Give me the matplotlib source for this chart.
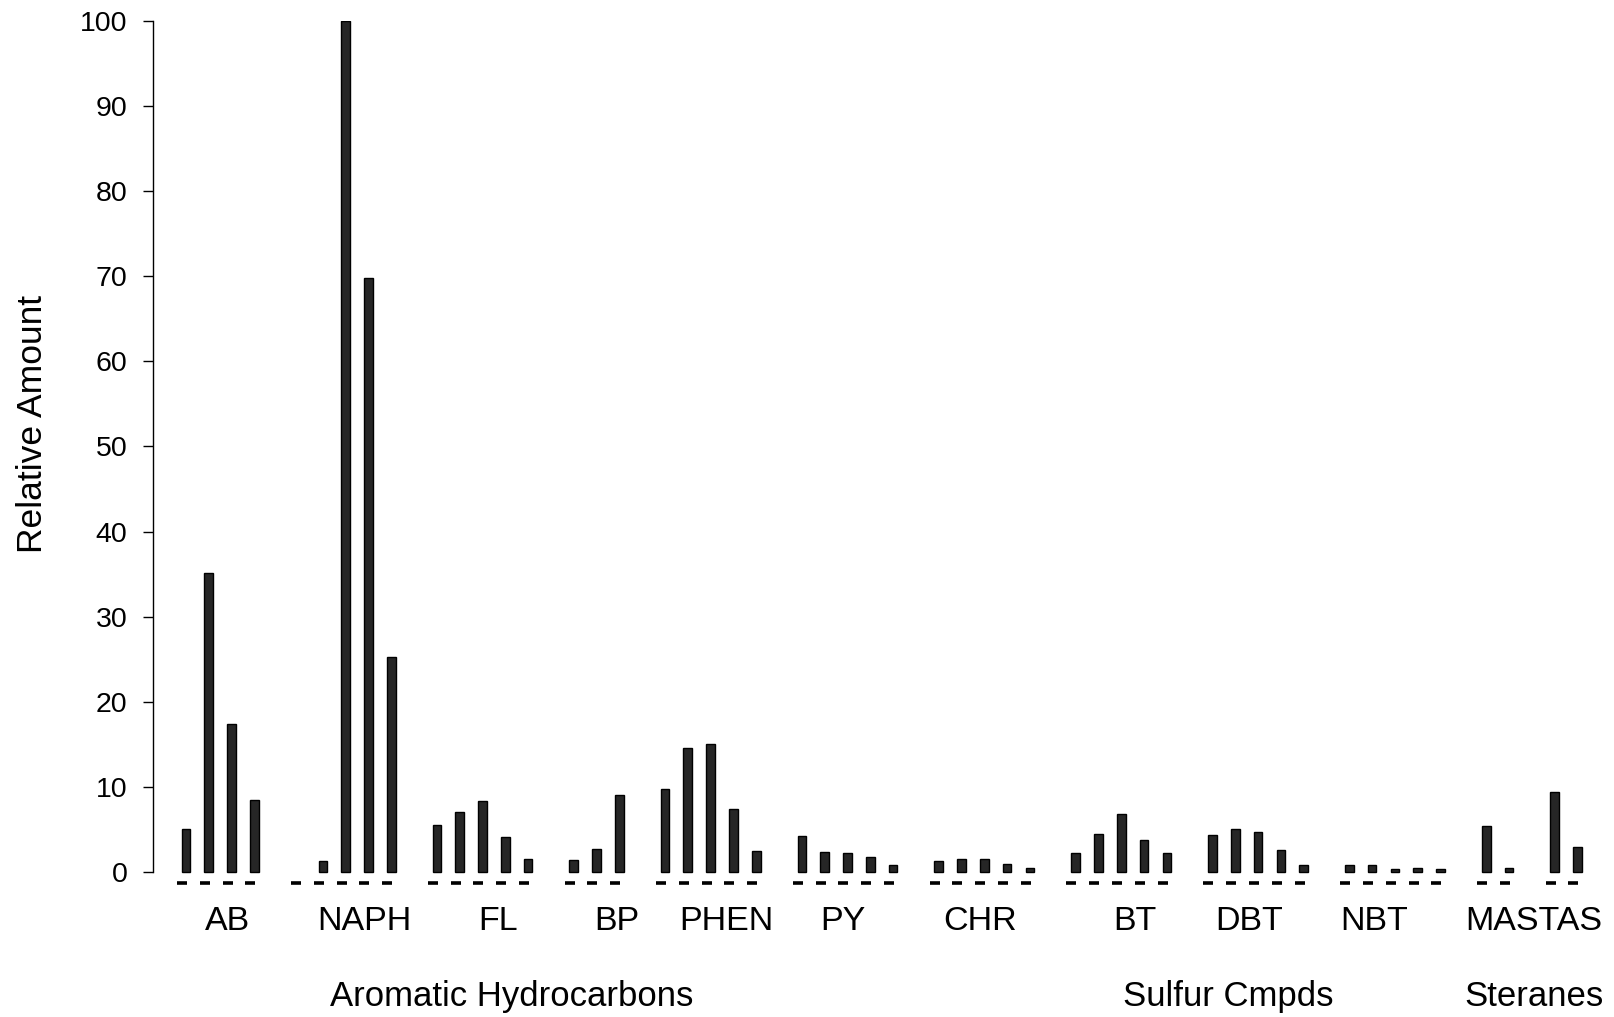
import matplotlib
matplotlib.use('Agg')
import matplotlib.pyplot as plt
import matplotlib.transforms as mtransforms
import numpy as np

plt.rcParams['font.family'] = ['Liberation Sans', 'DejaVu Sans']

# relative amounts per compound class (one bar per sample)
ab = [5.0, 35.1, 17.4, 8.5]
naph = [0, 1.3, 100, 69.8, 25.3]
fl = [5.5, 7.0, 8.3, 4.1, 1.5]
bp = [1.4, 2.7, 9.0]
phen = [9.7, 14.6, 15.0, 7.4, 2.5]
py = [4.2, 2.4, 2.2, 1.8, 0.8]
chry = [1.3, 1.5, 1.5, 0.9, 0.5]
bt = [2.2, 4.5, 6.8, 3.7, 2.2]
dbt = [4.3, 5.1, 4.7, 2.6, 0.8]
nbt = [0.8, 0.8, 0.4, 0.5, 0.4]
ma = [5.4, 0.5]
tas = [9.4, 2.9]
groups = [ab, naph, fl, bp, phen, py, chry, bt, dbt, nbt, ma, tas]

# second series, drawn as short dashes just under the zero line
dash_level = -1.26

cat_labels = ['AB', 'NAPH', 'FL', 'BP', 'PHEN', 'PY', 'CHR', 'BT', 'DBT', 'NBT', 'MASTAS']
class_labels = ['Aromatic Hydrocarbons', 'Sulfur Cmpds', 'Steranes']

# slot positions: one empty slot between groups
xs = []
vals = []
start = 0
for g in groups:
    for i, v in enumerate(g):
        xs.append(start + i)
        vals.append(v)
    start += len(g) + 1
xs = np.array(xs, dtype=float)
vals = np.array(vals)

fig = plt.figure(figsize=(16.14, 10.17), dpi=100)
ax = fig.add_axes([152.7 / 1614, 1 - 897.5 / 1017, (1600 - 152.7) / 1614, 876.5 / 1017])

nz = vals > 0
ax.bar(xs[nz], vals[nz], width=0.38, color='#262626', edgecolor='black', linewidth=1)
ax.plot(xs - 0.18, np.full(len(xs), dash_level), ls='none', marker='_',
        markersize=7.5, markeredgewidth=2.6, color='black')

ax.set_xlim(-1.46, 61.99)
ax.set_ylim(-3, 100)
ax.set_yticks(np.arange(0, 101, 10))
ax.tick_params(axis='y', direction='out', length=7.2, width=1, pad=11, labelsize=20.5)
ax.set_xticks([])
for s in ['top', 'right', 'bottom']:
    ax.spines[s].set_visible(False)
ax.spines['left'].set_bounds(0, 100)
ax.spines['left'].set_linewidth(1)

trans = mtransforms.blended_transform_factory(ax.transData, fig.transFigure)
cat_x = [1.8, 7.8, 13.7, 18.9, 23.7, 28.8, 34.8, 41.6, 46.6, 52.1, 59.1]
for lab, x in zip(cat_labels, cat_x):
    ax.text(x, 1 - 930 / 1017, lab, transform=trans, ha='center', va='baseline',
            fontsize=24.5, clip_on=False)
class_x = [14.3, 45.7, 59.1]
for lab, x in zip(class_labels, class_x):
    ax.text(x, 1 - 1006 / 1017, lab, transform=trans, ha='center', va='baseline',
            fontsize=25, clip_on=False)

fig.text(33 / 1614, 1 - 424 / 1017, 'Relative Amount', rotation=90,
         ha='center', va='center', fontsize=25.5)

fig.savefig('out.png', dpi=100)
